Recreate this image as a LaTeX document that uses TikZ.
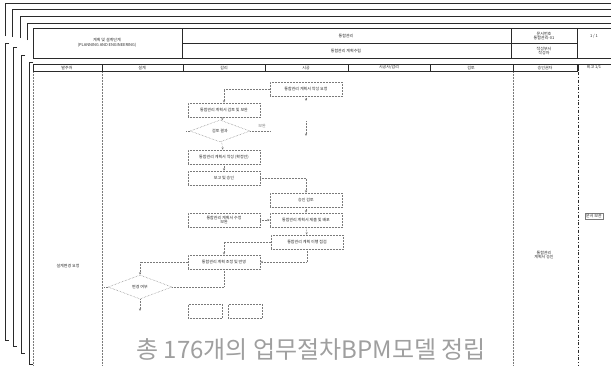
\documentclass[tikz,border=0pt]{standalone}
\usepackage{fontspec}
\setmainfont{Noto Sans CJK KR}
\usepackage{xcolor}
\usepackage{tikz}
\usetikzlibrary{arrows.meta}
\usetikzlibrary{shapes.geometric}
\definecolor{scan}{HTML}{7A7A7A}
\definecolor{ink}{HTML}{2A2A2A}
\def\boxw{72}
\def\boxh{14}
\def\tinyfont{\fontsize{4}{4.6}\selectfont}

\begin{document}
\begin{tikzpicture}[x=1pt, y=-1pt,
		page/.style={draw=ink, line width=0.7pt},
		lane/.style={draw=scan, densely dotted, line width=0.5pt},
		taskbox/.style={draw=scan, densely dotted, line width=0.5pt, minimum width=\boxw pt,
			minimum height=\boxh pt, inner sep=1pt, font=\tinyfont, text=ink, align=center},
		decide/.style={diamond, aspect=2.7, draw=scan, densely dotted, line width=0.5pt,
			inner sep=0pt, minimum width=60pt, minimum height=22pt, font=\tinyfont, text=ink},
		flow/.style={draw=scan, densely dotted, line width=0.5pt, -{Stealth[length=2.5pt,width=2pt]}},
		link/.style={draw=scan, densely dotted, line width=0.5pt},
		colhead/.style={font=\tinyfont, text=ink},
	]
	\fill[white] (0,0) rectangle (611,373);
	\useasboundingbox (0,0) rectangle (611,373);

	% stacked pages behind the form
	\draw[page] (5,36) -- (5,3) -- (611,3);
	\draw[page] (12,37) -- (12,9) -- (611,9);
	\draw[page] (20,38) -- (20,16) -- (611,16);
	\draw[page] (27,40) -- (27,23) -- (611,23);
	\draw[page] (9,43) -- (5,43) -- (5,340) -- (9,340);
	\draw[page] (17,47) -- (13,47) -- (13,346) -- (17,346);
	\draw[page] (25,55) -- (21,55) -- (21,353) -- (25,353);
	\draw[page] (33,62) -- (29,62) -- (29,364) -- (33,364);

	% title block
	\draw[page] (33,28) rectangle (611,58);
	\draw[page] (182,28) -- (182,58);
	\draw[page] (511,28) -- (511,58);
	\draw[page] (577,28) -- (577,58);
	\draw[page, line width=0.4pt] (182,43) -- (577,43);
	\node[colhead, align=center] (stage) at (107,43) {계획 및 설계단계\\(PLANNING AND ENGINEERING)};
	\node[colhead] (area) at (346,36) {통합관리};
	\node[colhead] (proc) at (346,51) {통합관리 계획수립};
	\node[colhead, align=center] (docno) at (544,36) {문서번호\\통합관리-01};
	\node[colhead, align=center] (owner) at (544,51) {작성부서\\작성자};
	\node[colhead] (sheet) at (594,36) {1 / 1};

	% lane header row
	\draw[page] (33,64) rectangle (577,71);
	\draw[page] (578,71) -- (578,64) -- (611,64);
	\foreach \xx in {102,183,265,348,430,513}
		\draw[page, line width=0.5pt] (\xx,64) -- (\xx,71);
	\node[colhead] (h1) at (67,67.5) {발주처};
	\node[colhead] (h2) at (142,67.5) {설계};
	\node[colhead] (h3) at (224,67.5) {감리};
	\node[colhead] (h4) at (306,67.5) {시공};
	\node[colhead] (h5) at (389,67.5) {시공사/감리};
	\node[colhead] (h6) at (471,67.5) {검토};
	\node[colhead] (h7) at (545,67.5) {승인권자};
	\node[colhead] (h8) at (594,67.5) {비고 1/1};

	% lane separators
	\draw[lane] (33,72) -- (33,366);
	\draw[lane] (102,72) -- (102,366);
	\draw[lane] (513,72) -- (513,366);
	\draw[page, line width=0.5pt, dash dot] (578,72) -- (578,366);

	% process boxes
	\node[taskbox] (req) at (306,89) {통합관리 계획서 작성 요청};
	\node[taskbox] (draft) at (224,110) {통합관리 계획서 검토 및 보완};
	\node[decide] (check) at (220,131) {검토 결과};
	\node[taskbox] (fix) at (224,157) {통합관리 계획서 작성 (확정안)};
	\node[taskbox] (report) at (224,178) {보고 및 승인};
	\node[taskbox] (approve) at (306,200) {승인 검토};
	\node[taskbox] (issue) at (306,220) {통합관리 계획서 제출 및 배포};
	\node[taskbox] (revise) at (224,220) {통합관리 계획서 수정\\보완};
	\node[taskbox] (audit) at (307,242) {통합관리 계획 이행 점검};
	\node[taskbox] (adjust) at (224,262) {통합관리 계획 조정 및 반영};
	\node[decide, minimum width=64pt, minimum height=24pt] (change) at (140,287) {변경 여부};
	\node[taskbox, minimum width=34pt] (endA) at (205,311) {};
	\node[taskbox, minimum width=34pt] (endB) at (245,311) {};

	% free ends
	\coordinate (reqTail) at (306,101);
	\coordinate (midTop) at (306,121);
	\coordinate (midEnd) at (306,136);
	\coordinate (checkNo) at (270,131);
	\coordinate (checkLeft) at (186,131);
	\coordinate (changeLeft) at (104,287);
	\coordinate (changeDown) at (140,311);

	% connectors
	\draw[flow] (req.west) -| (draft.north);
	\draw[flow] (req.south) -- (reqTail);
	\draw[flow] (midTop) -- (midEnd);
	\draw[flow] (draft) -- (check);
	\draw[flow] (check) -- (fix);
	\draw[link] (check.east) -- node[above, font=\tinyfont, text=scan, pos=0.6] {보완} (checkNo);
	\draw[link] (check.west) -- (checkLeft);
	\draw[flow] (fix) -- (report);
	\draw[flow] (report.east) -| (approve.north);
	\draw[flow] (approve) -- (issue);
	\draw[flow] (revise) -- (issue);
	\draw[flow] (issue) -- (audit);
	\draw[flow] (audit.west) -| (adjust.north);
	\draw[flow] (audit.south) |- (adjust.east);
	\draw[flow] (adjust.west) -| (change.north);
	\draw[link] (adjust.south) |- (change.east);
	\draw[link] (change.west) -- (changeLeft);
	\draw[flow] (change.south) -- (changeDown);

	% notes in the lanes
	\node[colhead] (noteL) at (68,266) {설계변경 요청};
	\node[colhead, align=center] (noteR) at (544,255) {통합관리\\계획서 승인};
	\node[colhead, draw=scan, line width=0.4pt, inner sep=1pt] (noteF) at (594,216) {문서 보관};

	% caption
	\node[text=gray!75, font=\fontsize{24}{27}\selectfont] (caption) at (311,349) {총 176개의 업무절차BPM모델 정립};
\end{tikzpicture}
\end{document}
